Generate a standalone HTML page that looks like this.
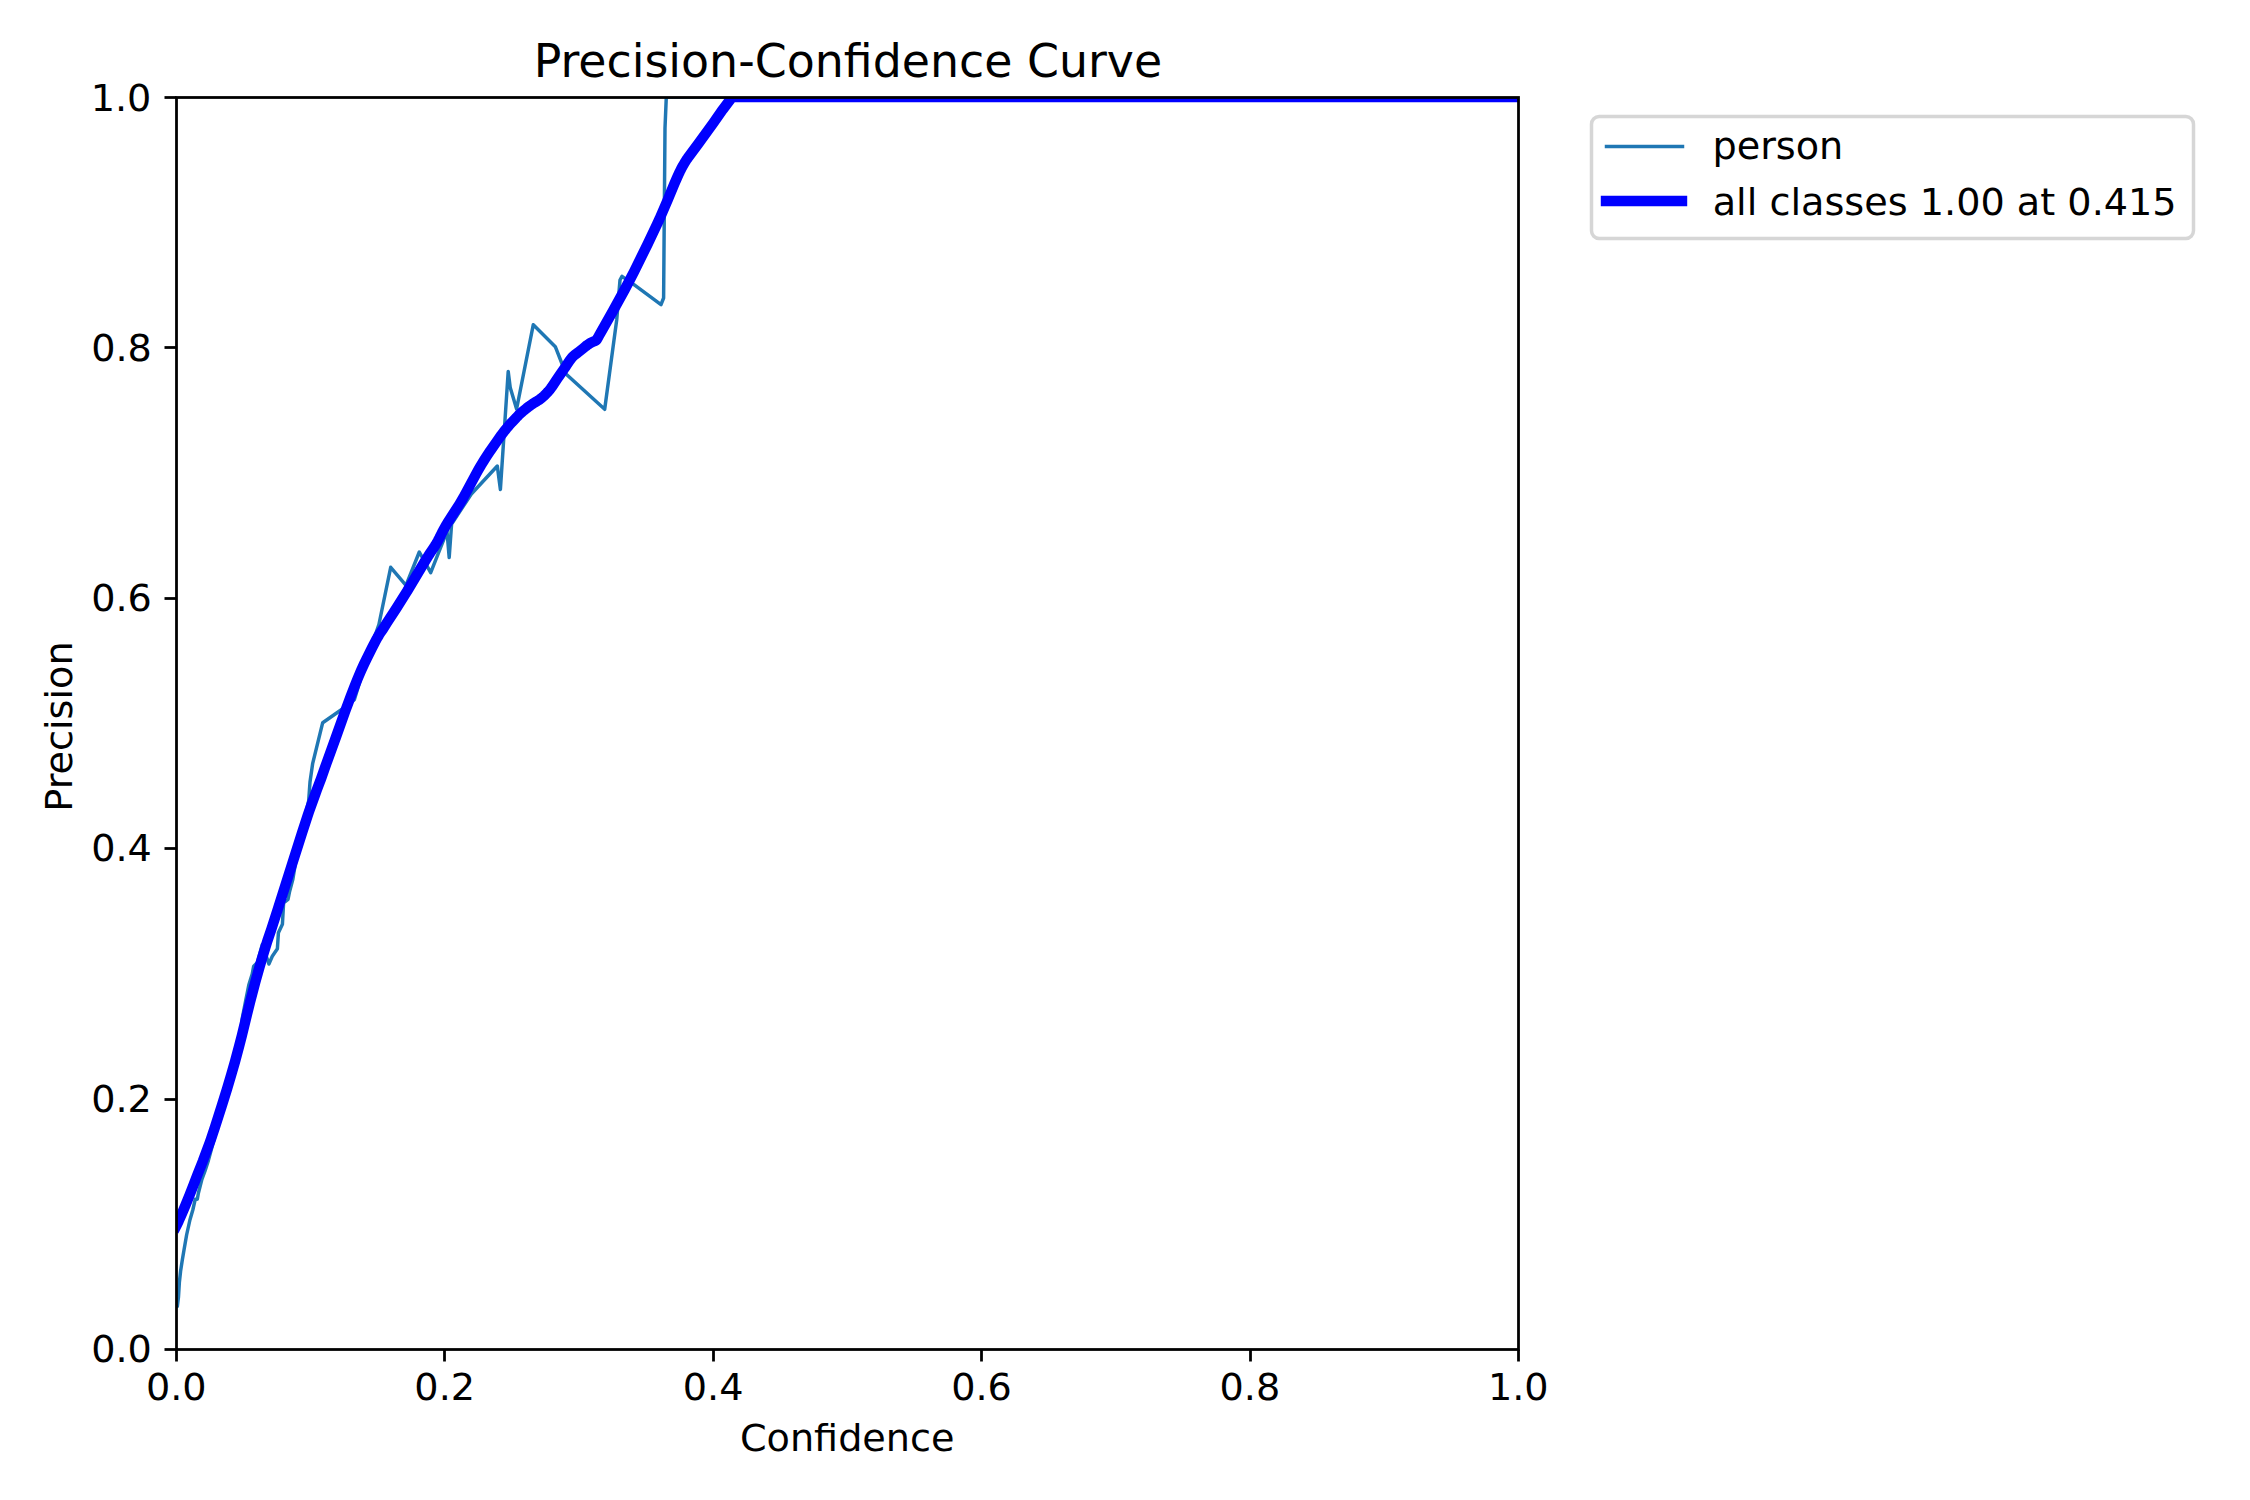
<!DOCTYPE html>
<html lang="en"><head><meta charset="utf-8"><title>Precision-Confidence Curve</title>
<style>
html,body{margin:0;padding:0;background:#fff;}
body{width:2250px;height:1500px;overflow:hidden;}
svg{display:block;}
text{font-family:"DejaVu Sans", "Liberation Sans", sans-serif;fill:#000;}
.t{font-size:38.194px;}
.tt{font-size:45.833px;}
.sp{stroke:#000;stroke-width:2.778;fill:none;stroke-linecap:square;}
.tk{stroke:#000;stroke-width:2.778;fill:none;}
</style></head><body>
<svg width="2250" height="1500" viewBox="0 0 2250 1500">
<rect width="2250" height="1500" fill="#fff"/>
<defs><clipPath id="ax"><rect x="176.0" y="97.0" width="1342.0" height="1252.0"/></clipPath></defs>

<g clip-path="url(#ax)" fill="none" stroke-linejoin="round" stroke-linecap="square">
<path d="M176.00 1306.40 L177.34 1306.40 L178.50 1296.70 L179.40 1282.00 L180.60 1271.00 L182.30 1260.00 L184.00 1250.00 L186.60 1235.00 L189.90 1220.00 L192.80 1210.00 L195.20 1199.30 L197.30 1199.30 L198.40 1193.00 L201.70 1180.00 L205.00 1171.00 L208.40 1160.40 L224.00 1103.00 L239.00 1050.00 L242.30 1018.00 L245.80 1000.00 L248.80 985.10 L252.20 974.00 L253.70 966.20 L257.40 962.50 L262.30 944.50 L268.90 964.00 L272.30 956.20 L277.40 948.70 L278.40 932.80 L282.40 924.30 L283.60 903.00 L288.00 899.50 L289.60 891.50 L292.90 879.00 L297.60 850.00 L308.70 800.70 L310.00 782.00 L312.70 763.30 L322.70 722.70 L342.00 709.30 L354.40 699.60 L366.40 660.00 L378.90 624.50 L390.70 567.30 L406.00 585.30 L419.30 552.00 L430.70 572.70 L447.00 531.30 L449.20 557.50 L451.60 524.00 L471.30 494.00 L497.30 466.00 L500.40 489.50 L508.20 371.50 L510.20 387.50 L516.60 409.00 L533.30 324.70 L555.30 346.70 L566.00 374.00 L604.70 409.30 L614.00 340.00 L616.70 320.00 L620.00 280.00 L622.00 276.30 L634.00 284.70 L661.00 304.60 L663.60 298.00 L665.00 128.00 L666.30 97.00 L1518.00 97.00" stroke="#1f77b4" stroke-width="3.472"/>
<path d="M176.00 1226.45 L177.34 1223.79 L178.69 1220.96 L181.37 1214.88 L185.40 1205.39 L189.43 1195.45 L193.46 1185.14 L197.49 1174.61 L202.87 1161.06 L209.58 1142.99 L210.93 1139.20 L214.96 1127.21 L221.67 1106.07 L227.05 1088.83 L231.08 1075.27 L235.11 1061.25 L239.14 1046.21 L241.82 1035.76 L247.20 1013.54 L249.88 1002.78 L255.26 982.20 L259.29 967.75 L261.97 958.45 L267.35 940.98 L271.38 929.14 L278.09 908.24 L302.27 832.13 L307.65 815.63 L308.99 811.62 L315.71 792.87 L317.05 789.24 L319.74 782.19 L321.08 778.58 L326.45 763.37 L335.86 737.37 L345.26 711.10 L350.63 696.58 L354.66 686.15 L357.35 679.41 L360.04 673.00 L361.38 669.91 L364.07 664.02 L366.75 658.40 L372.13 647.65 L376.16 639.86 L377.50 637.48 L378.84 635.22 L380.19 633.08 L382.87 629.23 L386.90 622.77 L396.31 608.39 L407.06 591.26 L424.52 561.98 L428.55 555.45 L429.89 553.34 L431.24 551.34 L433.92 547.52 L435.27 545.43 L436.61 543.17 L437.95 540.74 L439.30 538.15 L441.98 532.70 L443.33 530.14 L444.67 527.70 L446.01 525.36 L447.36 523.10 L459.45 504.19 L460.79 502.00 L462.13 499.73 L463.48 497.38 L475.57 474.85 L478.25 470.02 L480.94 465.38 L483.63 460.97 L486.31 456.74 L490.34 450.65 L498.40 439.13 L501.09 435.41 L503.78 431.86 L506.46 428.50 L509.15 425.31 L511.84 422.34 L515.87 418.18 L517.21 416.66 L518.55 415.21 L521.24 412.75 L523.93 410.43 L526.61 408.24 L529.30 406.18 L530.64 405.22 L533.33 403.42 L536.02 401.75 L537.36 400.96 L538.70 400.11 L540.05 399.18 L541.39 398.13 L542.73 397.00 L544.08 395.78 L545.42 394.48 L546.76 393.09 L548.11 391.62 L549.45 390.07 L550.79 388.32 L552.14 386.40 L557.51 378.42 L560.20 374.54 L564.23 368.63 L565.57 366.70 L566.91 364.71 L569.60 360.60 L570.94 358.79 L572.29 357.20 L573.63 355.82 L574.97 354.65 L577.66 352.73 L583.03 348.48 L585.72 346.26 L587.06 345.24 L588.41 344.29 L589.75 343.41 L591.09 342.67 L592.44 342.02 L595.12 340.90 L596.47 340.17 L597.81 337.89 L599.15 335.35 L600.50 332.90 L612.59 311.56 L624.68 289.63 L628.71 282.03 L634.08 271.56 L647.51 244.38 L656.92 224.58 L659.60 218.75 L667.66 200.01 L674.38 183.77 L677.07 177.60 L678.41 174.62 L679.75 171.74 L681.10 169.05 L682.44 166.58 L683.78 164.20 L685.13 161.92 L686.47 159.80 L687.81 157.89 L698.56 143.34 L713.34 123.00 L722.74 109.57 L730.80 98.80 L732.14 97.09 L733.49 97.00 L1518.00 97.00" stroke="#0000ff" stroke-width="10.417"/>
</g>
<path class="tk" d="M176.5 1349.5 V1361.5"/>
<text class="t" transform="translate(176.30 1400.10) scale(1 0.975)" text-anchor="middle">0.0</text>
<path class="tk" d="M444.5 1349.5 V1361.5"/>
<text class="t" transform="translate(444.70 1400.10) scale(1 0.975)" text-anchor="middle">0.2</text>
<path class="tk" d="M713.5 1349.5 V1361.5"/>
<text class="t" transform="translate(713.10 1400.10) scale(1 0.975)" text-anchor="middle">0.4</text>
<path class="tk" d="M981.5 1349.5 V1361.5"/>
<text class="t" transform="translate(981.50 1400.10) scale(1 0.975)" text-anchor="middle">0.6</text>
<path class="tk" d="M1250.5 1349.5 V1361.5"/>
<text class="t" transform="translate(1249.90 1400.10) scale(1 0.975)" text-anchor="middle">0.8</text>
<path class="tk" d="M1518.5 1349.5 V1361.5"/>
<text class="t" transform="translate(1518.30 1400.10) scale(1 0.975)" text-anchor="middle">1.0</text>
<path class="tk" d="M176.5 1349.5 H164.50"/>
<text class="t" transform="translate(151.90 1362.20) scale(1 0.975)" text-anchor="end">0.0</text>
<path class="tk" d="M176.5 1099.5 H164.50"/>
<text class="t" transform="translate(151.90 1112.00) scale(1 0.975)" text-anchor="end">0.2</text>
<path class="tk" d="M176.5 848.5 H164.50"/>
<text class="t" transform="translate(151.90 861.40) scale(1 0.975)" text-anchor="end">0.4</text>
<path class="tk" d="M176.5 598.5 H164.50"/>
<text class="t" transform="translate(151.90 611.00) scale(1 0.975)" text-anchor="end">0.6</text>
<path class="tk" d="M176.5 347.5 H164.50"/>
<text class="t" transform="translate(151.90 360.85) scale(1 0.975)" text-anchor="end">0.8</text>
<path class="tk" d="M176.5 97.5 H164.50"/>
<text class="t" transform="translate(151.40 111.00) scale(1 0.975)" text-anchor="end">1.0</text>
<rect class="sp" x="176.5" y="97.5" width="1342.0" height="1252.0"/>
<text class="t" transform="translate(847.20 1450.80) scale(1 0.98)" text-anchor="middle">Confidence</text>
<text class="t" transform="translate(71.80 726.50) rotate(-90) scale(1 0.98)" text-anchor="middle">Precision</text>
<text class="tt" transform="translate(847.90 76.67)" text-anchor="middle">Precision-Confidence Curve</text>
<rect x="1591.5" y="116.5" width="602" height="122" rx="7.64" fill="#fff" stroke="#ccc" stroke-width="3.472" opacity="0.8"/>
<path d="M1604.76 146.5 H1684.24" stroke="#1f77b4" stroke-width="3.472" fill="none"/>
<path d="M1600.79 201 H1687.21" stroke="#0000ff" stroke-width="10.417" fill="none"/>
<text class="t" transform="translate(1712.40 158.90)">person</text>
<text class="t" transform="translate(1712.70 215.36) scale(1 0.98)">all classes 1.00 at 0.415</text>
</svg></body></html>
